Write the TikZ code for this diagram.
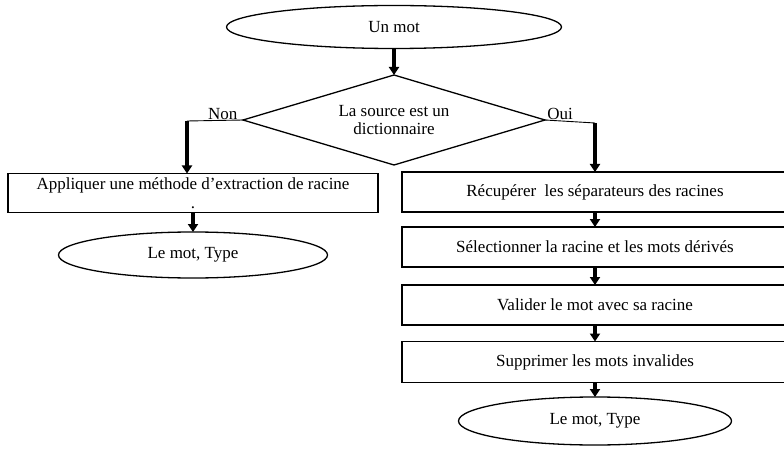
\documentclass[tikz,border=0pt]{standalone}
\usepackage{fontspec}
\setmainfont{Liberation Serif}
\usetikzlibrary{shapes.geometric,arrows.meta}
\begin{document}
\begin{tikzpicture}[x=1pt,y=-1pt,inner sep=0pt,outer sep=0pt,
font=\fontsize{17}{18.5}\selectfont,
stepbox/.style={draw,rectangle,line width=1.3pt,minimum height=39pt,align=center},
endblock/.style={draw,ellipse,line width=1.3pt},
testblock/.style={draw,diamond,shape aspect=3.36,line width=1.3pt,minimum width=302pt,minimum height=90pt,align=center},
flow/.style={line width=3.4pt,-{Triangle[width=10pt,length=8pt]}},
branch/.style={line width=0.9pt}]
\useasboundingbox (0,0) rectangle (784,449);
\draw (394,27) node[endblock,minimum width=335pt,minimum height=43pt] (mot) {Un mot};
\draw (394,120) node[testblock] (source) {La source est un\\dictionnaire};
\draw (193,193) node[stepbox,minimum width=370pt] (extract) {Appliquer une méthode d’extraction de racine\\.};
\draw (193,255) node[endblock,minimum width=269pt,minimum height=46pt] (motgauche) {Le mot, Type};
\draw (595,192) node[stepbox,minimum width=386pt,minimum height=40pt] (recup) {Récupérer\ \ les séparateurs des racines};
\draw (595,247) node[stepbox,minimum width=386pt,minimum height=40pt] (select) {Sélectionner la racine et les mots dérivés};
\draw (595,305) node[stepbox,minimum width=386pt,minimum height=40pt] (valid) {Valider le mot avec sa racine};
\draw (595,362) node[stepbox,minimum width=386pt,minimum height=41pt] (suppr) {Supprimer les mots invalides};
\draw (595,421) node[endblock,minimum width=273pt,minimum height=48pt] (motdroit) {Le mot, Type};
\coordinate (nonturn) at (187,121);
\coordinate (ouiturn) at (595,123);
\draw[flow] (mot) -- (source);
\draw[branch] (source.west) -- (nonturn) node[pos=0.36,above=1pt] {Non};
\draw[flow] (nonturn) -- (nonturn |- extract.north);
\draw[flow] (extract) -- (motgauche);
\draw[branch] (source.east) -- (ouiturn) node[pos=0.3,above=1pt] {Oui};
\draw[flow] (ouiturn) -- (recup);
\draw[flow] (recup) -- (select);
\draw[flow] (select) -- (valid);
\draw[flow] (valid) -- (suppr);
\draw[flow] (suppr) -- (motdroit);
\end{tikzpicture}
\end{document}
